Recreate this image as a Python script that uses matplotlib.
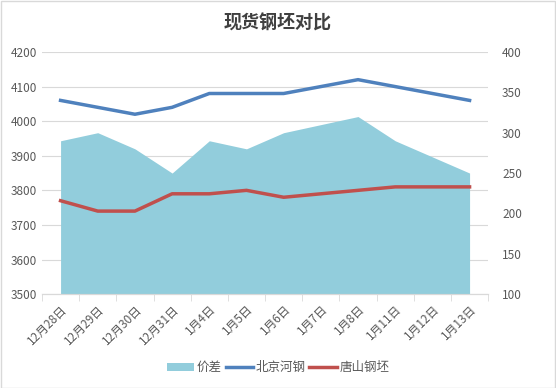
import numpy as np
import matplotlib.pyplot as plt

plt.rcParams['font.family'] = ['Noto Sans CJK SC', 'DejaVu Sans']

dates = ['12月28日', '12月29日', '12月30日', '12月31日', '1月4日', '1月5日',
         '1月6日', '1月7日', '1月8日', '1月11日', '1月12日', '1月13日']
beijing = [4060, 4040, 4020, 4040, 4080, 4080, 4080, 4100, 4120, 4100, 4080, 4060]
tangshan = [3770, 3740, 3740, 3790, 3790, 3800, 3780, 3790, 3800, 3810, 3810, 3810]
spread = [290, 300, 280, 250, 290, 280, 300, 310, 320, 290, 270, 250]

fig = plt.figure(figsize=(5.56, 3.88), dpi=100)
fig.patches.append(plt.Rectangle((0.001, 0.001), 0.997, 0.997, transform=fig.transFigure,
                                 fill=False, edgecolor='#D9D9D9', linewidth=1))
ax = fig.add_axes([0.0755, 0.242, 0.8025, 0.624])
ax2 = ax.twinx()

x = np.arange(len(dates))
area = ax2.fill_between(x, 100, spread, color='#92CDDC', linewidth=0, label='价差')
ax2.set_ylim(100, 400)
ax2.set_yticks(np.arange(100, 401, 50))

ax.set_zorder(ax2.get_zorder() + 1)
ax.patch.set_visible(False)
l1, = ax.plot(x, beijing, color='#4F81BD', linewidth=2.5, label='北京河钢')
l2, = ax.plot(x, tangshan, color='#C0504D', linewidth=2.5, label='唐山钢坯')
ax.set_ylim(3500, 4200)
ax.set_yticks(np.arange(3500, 4201, 100))
ax.set_xlim(-0.5, len(dates) - 0.5)

ax.set_xticks(x)
ax.set_xticklabels(dates, rotation=45, ha='right', rotation_mode='anchor')
ax.set_xticks(np.arange(-0.5, len(dates)), minor=True)
ax.tick_params(axis='x', which='major', length=0, pad=6, labelsize=8.5, labelcolor='#595959')
ax.tick_params(axis='x', which='minor', length=5, color='#D9D9D9', direction='out')
ax.tick_params(axis='y', length=0, labelsize=8.5, labelcolor='#595959')
ax2.tick_params(axis='y', length=0, labelsize=8.5, labelcolor='#595959', pad=10)

ax2.grid(False)
for v in np.arange(3500, 4201, 100):
    ax2.axhline(100 + (v - 3500) * 300 / 700, color='#D9D9D9', linewidth=0.8, zorder=0)

for a in (ax, ax2):
    for s in ('top', 'left', 'right'):
        a.spines[s].set_visible(False)
    a.spines['bottom'].set_color('#D9D9D9')

fig.text(0.5, 0.94, '现货钢坯对比', ha='center', va='center', fontsize=13,
         fontweight='bold', color='#404040')
fig.legend([area, l1, l2], ['价差', '北京河钢', '唐山钢坯'], loc='center',
           bbox_to_anchor=(0.5, 0.052), ncol=3, frameon=False, fontsize=9,
           handlelength=2.2, handletextpad=0.2, columnspacing=0.3,
           labelcolor='#595959')

fig.savefig('out.png', dpi=100)
